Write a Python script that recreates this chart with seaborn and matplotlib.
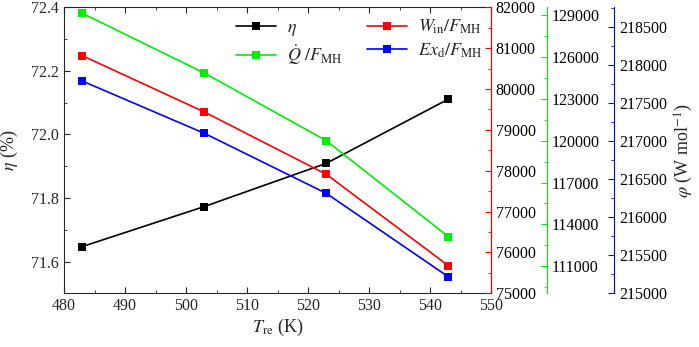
import seaborn as sns
import pandas as pd
import matplotlib.pyplot as plt
from matplotlib.ticker import MultipleLocator, AutoMinorLocator

# values
T_re = [483, 503, 523, 543]
eta = [71.647, 71.773, 71.909, 72.111]
w_in = [80816, 79438, 77913, 75677]
q_dot = [129120, 124844, 119998, 113124]
ex_d = [217786, 217100, 216312, 215217]

sns.set_style("ticks")
plt.rcParams['font.family'] = ['Liberation Serif', 'DejaVu Serif']
plt.rcParams['mathtext.fontset'] = 'stix'
plt.rcParams['xtick.direction'] = 'in'
plt.rcParams['ytick.direction'] = 'in'

df = pd.DataFrame({"T": T_re, "eta": eta, "w": w_in, "q": q_dot, "ex": ex_d})

fig = plt.figure(figsize=(6.99, 3.47), dpi=100)
ax = fig.add_axes([64/699, 1 - 293.3/347, 427/699, 286/347])

sns.lineplot(x="T", y="eta", data=df, ax=ax, color="black", marker="s",
             markersize=6, markeredgewidth=0, linewidth=1.2, label=r"$\eta$")
ax.set_xlim(480, 550)
ax.set_ylim(71.5, 72.4)
ax.xaxis.set_major_locator(MultipleLocator(10))
ax.xaxis.set_minor_locator(AutoMinorLocator(2))
ax.yaxis.set_major_locator(MultipleLocator(0.2))
ax.yaxis.set_minor_locator(AutoMinorLocator(2))
ax.tick_params(which='both', top=True, direction='in', labelsize=11.5)
ax.tick_params(which='major', length=4)
ax.tick_params(which='minor', length=2.5)
ax.set_xlabel(r"$T_{\rm re}$ (K)", fontsize=13, labelpad=2)
ax.set_ylabel(r"$\eta$ (%)", fontsize=13, labelpad=8)


def side_axis(col, color, label, lo, hi, step, pos=None):
    a = ax.twinx()
    if pos is not None:
        a.spines['right'].set_position(('axes', pos))
    sns.lineplot(x="T", y=col, data=df, ax=a, color=color, marker="s",
                 markersize=6, markeredgewidth=0, linewidth=1.2, label=label)
    a.set_ylim(lo, hi)
    a.yaxis.set_major_locator(MultipleLocator(step))
    a.yaxis.set_minor_locator(AutoMinorLocator(2))
    a.spines['right'].set_color(color)
    a.tick_params(axis='y', which='both', direction='in', colors=color,
                  labelcolor='black', labelsize=11.5)
    a.tick_params(which='major', length=4)
    a.tick_params(which='minor', length=2.5)
    a.set_ylabel("")
    a.get_legend().remove()
    for s in ('left', 'top', 'bottom'):
        a.spines[s].set_visible(False)
    return a


ax2 = side_axis("w", "red", r"$W_{\rm in}/F_{\rm MH}$", 75000, 82000, 1000)
ax3 = side_axis("q", "#00ee00", r"$\dot{Q}\ /F_{\rm MH}$", 109067, 129549, 3000, 1.131)
ax4 = side_axis("ex", "blue", r"$Ex_{\rm d}/F_{\rm MH}$", 215000, 218754, 500, 1.288)
ax4.set_ylabel(r"$\varphi$ (W mol$^{-1}$)", fontsize=13)

handles, labels = [], []
for a in (ax, ax2, ax3, ax4):
    h, l = a.get_legend_handles_labels()
    handles += h
    labels += l
ax.get_legend().remove()
order = [0, 2, 1, 3]
ax4.legend([handles[i] for i in order], [labels[i] for i in order], ncol=2,
           frameon=False, fontsize=13, loc='upper left', bbox_to_anchor=(0.365, 1.02),
           handlelength=2.2, handletextpad=0.6, columnspacing=1.4, labelspacing=0.3)

fig.savefig("out.png", dpi=100)
